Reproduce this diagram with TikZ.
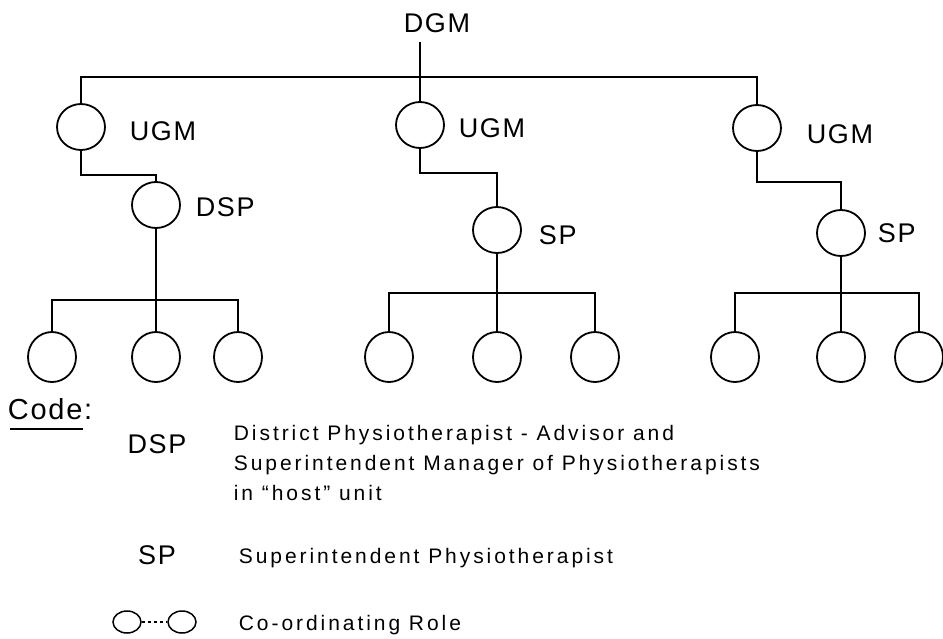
\documentclass[tikz,border=0pt]{standalone}
\usepackage{fontspec}
\setmainfont{Liberation Sans}
\newfontfamily\keyfont[LetterSpace=14]{Liberation Sans}
\newfontfamily\labelfont[LetterSpace=6]{Liberation Sans}
\usetikzlibrary{shapes.geometric}

\begin{document}
\begin{tikzpicture}[x=1pt,y=-1pt,
  line width=1.8pt,
  role/.style={draw,ellipse,line width=1.8pt,minimum width=48pt,minimum height=46pt,inner sep=0pt},
  leaf/.style={role,minimum height=50pt},
  keyrole/.style={draw,ellipse,line width=1.5pt,minimum width=28pt,minimum height=22pt,inner sep=0pt},
  lbl/.style={inner sep=0pt,font=\labelfont\fontsize{27}{30}\selectfont},
  keytxt/.style={inner sep=0pt,anchor=base west,font=\keyfont\fontsize{21}{24}\selectfont},
]
\useasboundingbox (0,0) rectangle (943,638);

% top of the hierarchy
\node[lbl] (dgm) at (437,23) {DGM};
\coordinate (topbar) at (420,77);

% unit general managers
\node[role] (u1) at (81,127) {};
\node[role] (u2) at (420,125) {};
\node[role] (u3) at (757,128) {};
\node[lbl,anchor=west] (u1l) at (129,131) {UGM};
\node[lbl,anchor=west] (u2l) at (458,128) {UGM};
\node[lbl,anchor=west] (u3l) at (806,134) {UGM};

\draw (u2.north) -- ([yshift=-9pt]u2.north |- dgm.south);
\draw (u1.north) |- (topbar) -| (u3.north);

% physiotherapy managers
\node[role] (dsp) at (156,205) {};
\node[role] (sp1) at (497,230) {};
\node[role] (sp2) at (841,233) {};
\node[lbl,anchor=west] (dspl) at (195,207) {DSP};
\node[lbl,anchor=west] (sp1l) at (538,235) {SP};
\node[lbl,anchor=west] (sp2l) at (877,233) {SP};

\coordinate (j1) at (0,175);
\coordinate (j2) at (0,173);
\coordinate (j3) at (0,182);
\draw (u1.south) -- (u1.south |- j1) -| (dsp.north);
\draw (u2.south) -- (u2.south |- j2) -| (sp1.north);
\draw (u3.south) -- (u3.south |- j3) -| (sp2.north);

% physiotherapists
\node[leaf] (a1) at (52,357) {};
\node[leaf] (a2) at (156,357) {};
\node[leaf] (a3) at (238,357) {};
\node[leaf] (b1) at (389,357) {};
\node[leaf] (b2) at (497,357) {};
\node[leaf] (b3) at (595,357) {};
\node[leaf] (c1) at (735,357) {};
\node[leaf] (c2) at (841,357) {};
\node[leaf] (c3) at (919,357) {};

\coordinate (ba) at (0,300);
\coordinate (bb) at (0,293);
\draw (dsp.south) -- (a2.north);
\draw (a1.north) |- (dsp.south |- ba) -| (a3.north);
\draw (sp1.south) -- (b2.north);
\draw (b1.north) |- (sp1.south |- bb) -| (b3.north);
\draw (sp2.south) -- (c2.north);
\draw (c1.north) |- (sp2.south |- bb) -| (c3.north);

% key
\node[lbl,anchor=west,font=\labelfont\fontsize{29}{30}\selectfont] (code) at (7,409) {Code:};
\draw[line width=1.4pt] (10,429) -- (83,429);

\node[lbl] (kdsp) at (157,444) {DSP};
\node[keytxt] (kd1) at (233,440) {District Physiotherapist - Advisor and};
\node[keytxt] (kd2) at (233,470) {Superintendent Manager of Physiotherapists};
\node[keytxt] (kd3) at (233,500) {in “host” unit};

\node[lbl] (ksp) at (157,555) {SP};
\node[keytxt] (ks1) at (238,563) {Superintendent Physiotherapist};

\node[keyrole] (k1) at (127,622) {};
\node[keyrole] (k2) at (182,622) {};
\draw[line width=1.3pt,dash pattern=on 3pt off 3pt] (k1.east) -- (k2.west);
\node[keytxt] (kc) at (238,630) {Co-ordinating Role};
\end{tikzpicture}
\end{document}
